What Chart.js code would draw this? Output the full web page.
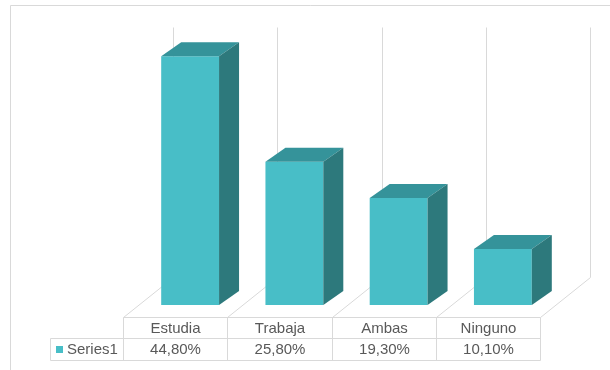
<!DOCTYPE html>
<html>
<head>
<meta charset="utf-8">
<script src="https://cdn.jsdelivr.net/npm/chart.js@4.4.1/dist/chart.umd.min.js"></script>
<style>
html,body{margin:0;padding:0;background:#fff;}
#wrap{width:610px;height:370px;position:relative;}
</style>
</head>
<body>
<div id="wrap"><canvas id="c" width="610" height="370"></canvas></div>
<script>
const categories = ['Estudia', 'Trabaja', 'Ambas', 'Ninguno'];
const seriesName = 'Series1';
const values = [44.8, 25.8, 19.3, 10.1];
const valueLabels = ['44,80%', '25,80%', '19,30%', '10,10%'];

const FRONT = '#48BEC7', TOP = '#35939A', SIDE = '#2D797C';
const GRID = '#D9D9D9', TEXT = '#595959';
const FONT = '15px "Liberation Sans", Arial, sans-serif';
const BAR_DX = 20, BAR_DY = -14;       // bar depth
const FLOOR_DX = 50, FLOOR_DY = -40;   // floor depth
const FLOOR_FRONT_Y = 317.5;
const COL_SHIFT = 15;                  // bars sit partway into the floor depth

function line(ctx, x1, y1, x2, y2) {
  ctx.beginPath(); ctx.moveTo(x1, y1); ctx.lineTo(x2, y2); ctx.stroke();
}

const scene = {
  id: 'scene3d',
  beforeDatasetsDraw(chart) {
    const ctx = chart.ctx, xs = chart.scales.x, ys = chart.scales.y;
    const n = categories.length;
    const step = xs.getPixelForValue(1) - xs.getPixelForValue(0);
    const colLeft = i => Math.round(xs.getPixelForValue(i) - step / 2 - COL_SHIFT) + 0.5;
    const top = ys.getPixelForValue(ys.max);
    ctx.save();
    ctx.strokeStyle = GRID; ctx.lineWidth = 1;
    // outer chart border
    line(ctx, 10.5, 5.5, 610, 5.5);
    line(ctx, 10.5, 5.5, 10.5, 370);
    // back wall vertical lines and floor diagonals
    for (let i = 0; i <= n; i++) {
      const x = colLeft(i);
      line(ctx, x + FLOOR_DX, top, x + FLOOR_DX, FLOOR_FRONT_Y + FLOOR_DY);
      line(ctx, x, FLOOR_FRONT_Y, x + FLOOR_DX, FLOOR_FRONT_Y + FLOOR_DY);
    }
    // data table
    const tableLeft = 50.5;
    const row1 = FLOOR_FRONT_Y, row2 = 338.5, row3 = 360.5;
    const right = colLeft(n);
    line(ctx, colLeft(0), row1, right, row1);
    line(ctx, tableLeft, row2, right, row2);
    line(ctx, tableLeft, row3, right, row3);
    line(ctx, tableLeft, row2, tableLeft, row3);
    for (let i = 0; i <= n; i++) line(ctx, colLeft(i), row1, colLeft(i), row3);
    ctx.font = FONT; ctx.fillStyle = TEXT;
    ctx.textAlign = 'center'; ctx.textBaseline = 'middle';
    for (let i = 0; i < n; i++) {
      const cx = (colLeft(i) + colLeft(i + 1)) / 2;
      ctx.fillText(categories[i], cx, (row1 + row2) / 2 + 0.5);
      ctx.fillText(valueLabels[i], cx, (row2 + row3) / 2 + 0.5);
    }
    ctx.textAlign = 'left';
    ctx.fillStyle = FRONT;
    ctx.fillRect(56, 346, 7, 7);
    ctx.fillStyle = TEXT;
    ctx.fillText(seriesName, 67, (row2 + row3) / 2 + 0.5);
    ctx.restore();
  },
  afterDatasetsDraw(chart) {
    const ctx = chart.ctx;
    const meta = chart.getDatasetMeta(0);
    ctx.save();
    meta.data.forEach(bar => {
      const p = bar.getProps(['x', 'y', 'base', 'width'], true);
      const x0 = p.x - p.width / 2, x1 = p.x + p.width / 2;
      const t = p.y, b = p.base;
      ctx.fillStyle = TOP;
      ctx.beginPath();
      ctx.moveTo(x0, t); ctx.lineTo(x1, t);
      ctx.lineTo(x1 + BAR_DX, t + BAR_DY); ctx.lineTo(x0 + BAR_DX, t + BAR_DY);
      ctx.closePath(); ctx.fill();
      ctx.fillStyle = SIDE;
      ctx.beginPath();
      ctx.moveTo(x1, t); ctx.lineTo(x1 + BAR_DX, t + BAR_DY);
      ctx.lineTo(x1 + BAR_DX, b + BAR_DY); ctx.lineTo(x1, b);
      ctx.closePath(); ctx.fill();
    });
    ctx.restore();
  }
};

new Chart(document.getElementById('c'), {
  type: 'bar',
  data: {
    labels: categories,
    datasets: [{
      label: seriesName,
      data: values,
      backgroundColor: FRONT,
      borderWidth: 0,
      categoryPercentage: 1,
      barPercentage: 0.555
    }]
  },
  options: {
    responsive: false,
    animation: false,
    events: [],
    layout: { padding: { left: 138, right: 55, top: 27.5, bottom: 65 } },
    scales: {
      x: { display: false },
      y: { display: false, min: 0, max: 50 }
    },
    plugins: { legend: { display: false }, tooltip: { enabled: false } }
  },
  plugins: [scene]
});
</script>
</body>
</html>
